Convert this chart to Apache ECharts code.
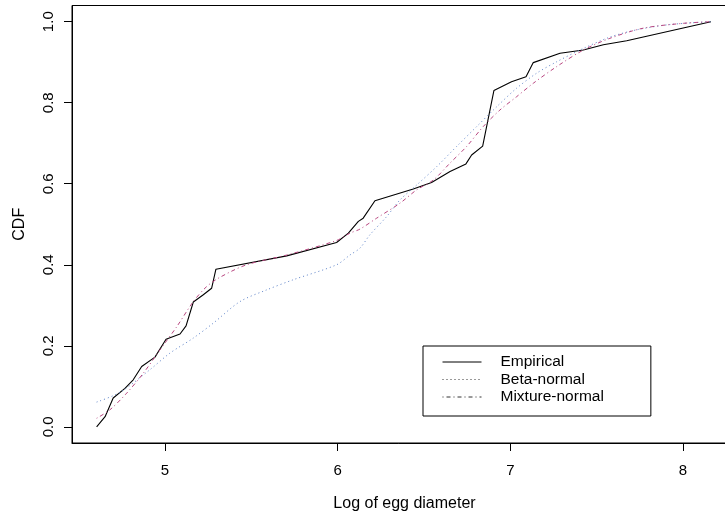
<!DOCTYPE html>
<html>
<head>
<meta charset="utf-8">
<script src="https://cdn.jsdelivr.net/npm/echarts@6/dist/echarts.min.js"></script>
<style>
  html, body { margin: 0; padding: 0; background: #fff; }
  #chart { width: 725px; height: 514px; }
</style>
</head>
<body>
<div id="chart"></div>
<script>
// empirical CDF of log egg diameter
const empirical = [
  [4.604, 0.0], [4.653, 0.025], [4.70, 0.071], [4.768, 0.095], [4.816, 0.116],
  [4.865, 0.149], [4.942, 0.172], [5.006, 0.216], [5.087, 0.229], [5.122, 0.249],
  [5.164, 0.308], [5.222, 0.326], [5.27, 0.342], [5.295, 0.389], [5.705, 0.422],
  [5.994, 0.455], [6.062, 0.478], [6.12, 0.507], [6.148, 0.515], [6.216, 0.558],
  [6.438, 0.587], [6.544, 0.603], [6.651, 0.630], [6.743, 0.649], [6.776, 0.671],
  [6.84, 0.693], [6.905, 0.830], [7.007, 0.852], [7.091, 0.864], [7.133, 0.899],
  [7.288, 0.922], [7.423, 0.930], [7.539, 0.943], [7.674, 0.953], [8.162, 1.0]
]

const betaNormal = [
  [4.604, 0.061], [4.739, 0.085], [4.913, 0.141], [5.029, 0.182], [5.164, 0.219],
  [5.28, 0.256], [5.434, 0.309], [5.589, 0.338], [5.743, 0.363], [5.994, 0.400],
  [6.071, 0.424], [6.129, 0.441], [6.187, 0.474], [6.284, 0.519], [6.361, 0.560],
  [6.458, 0.597], [6.573, 0.642], [6.689, 0.692], [6.805, 0.741], [6.921, 0.790],
  [7.037, 0.836], [7.153, 0.873], [7.268, 0.901], [7.423, 0.934], [7.577, 0.962],
  [7.732, 0.980], [7.925, 0.993], [8.162, 1.0]
]

const mixtureNormal = [
  [4.604, 0.021], [4.681, 0.042], [4.778, 0.083], [4.874, 0.132], [4.971, 0.190],
  [5.068, 0.247], [5.164, 0.309], [5.241, 0.346], [5.318, 0.369], [5.473, 0.400],
  [5.705, 0.424], [5.994, 0.460], [6.071, 0.478], [6.129, 0.488], [6.226, 0.515],
  [6.361, 0.552], [6.458, 0.585], [6.554, 0.609], [6.651, 0.651], [6.747, 0.692],
  [6.843, 0.741], [6.94, 0.782], [7.037, 0.815], [7.133, 0.848], [7.268, 0.889],
  [7.423, 0.930], [7.577, 0.959], [7.77, 0.984], [8.002, 0.996], [8.162, 1.0]
]

const xTicks = [5, 6, 7, 8]
const yTicks = [0, 0.2, 0.4, 0.6, 0.8, 1.0]

const font = 'Liberation Sans, Arial, Helvetica, sans-serif'
const chart = echarts.init(document.getElementById('chart'), null, { renderer: 'canvas' })

const axisCommon = {
  type: 'value',
  splitLine: { show: false },
  axisLine: { show: true, onZero: false, lineStyle: { color: '#000', width: 1 } },
  axisTick: { show: true, length: 8, lineStyle: { color: '#000' } },
  nameTextStyle: { color: '#000', fontSize: 16, fontFamily: font },
  nameLocation: 'middle'
}

chart.setOption({
  animation: false,
  backgroundColor: '#fff',
  grid: {
    left: 72, right: -12, top: 5.5, bottom: 71,
    outerBoundsMode: 'none', containLabel: false,
    show: true, borderColor: '#000', borderWidth: 1
  },
  xAxis: {
    ...axisCommon,
    min: 4.4614,
    max: 8.313,
    name: 'Log of egg diameter',
    nameGap: 53,
    axisTick: { ...axisCommon.axisTick, customValues: xTicks },
    axisLabel: { customValues: xTicks, color: '#000', fontSize: 15, fontFamily: font, margin: 20 }
  },
  yAxis: {
    ...axisCommon,
    min: -0.04,
    max: 1.04,
    name: 'CDF',
    nameGap: 44,
    axisTick: { ...axisCommon.axisTick, customValues: yTicks },
    axisLabel: {
      customValues: yTicks, rotate: 90, color: '#000', fontSize: 15, fontFamily: font, margin: 16,
      formatter: (v) => v.toFixed(1)
    }
  },
  legend: {
    orient: 'vertical',
    left: 423,
    top: 346,
    borderColor: '#000',
    borderWidth: 1,
    borderRadius: 0,
    padding: [8, 47, 11, 19],
    itemWidth: 39,
    itemHeight: 14,
    itemGap: 1.5,
    textStyle: { color: '#000', fontSize: 15.5, fontFamily: font, padding: [0, 0, 0, 14] },
    data: [
      { name: 'Empirical', itemStyle: { opacity: 0 }, lineStyle: { color: '#000', width: 1 } },
      { name: 'Beta-normal', itemStyle: { opacity: 0 }, lineStyle: { color: '#333', width: 1 } },
      { name: 'Mixture-normal', itemStyle: { opacity: 0 }, lineStyle: { color: '#333', width: 1 } }
    ]
  },
  series: [
    {
      name: 'Empirical', type: 'line', data: empirical, symbol: 'none', showSymbol: false,
      color: '#000', lineStyle: { color: '#000', width: 1.1 }
    },
    {
      name: 'Beta-normal', type: 'line', data: betaNormal, symbol: 'none', showSymbol: false,
      smooth: 0.3, color: '#5a80c8', lineStyle: { color: '#5a80c8', width: 1, type: [1, 3] }
    },
    {
      name: 'Mixture-normal', type: 'line', data: mixtureNormal, symbol: 'none', showSymbol: false,
      smooth: 0.3, color: '#b8457f', lineStyle: { color: '#b8457f', width: 1, type: [1, 3, 4, 3] }
    }
  ]
})
</script>
</body>
</html>
